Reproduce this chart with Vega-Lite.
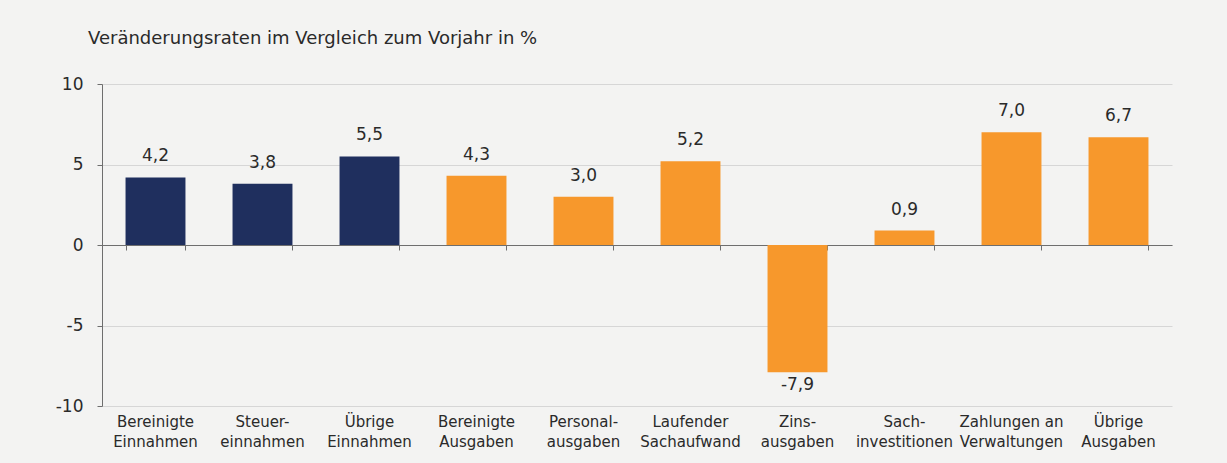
{
  "$schema": "https://vega.github.io/schema/vega-lite/v6.json",
  "autosize": "none",
  "width": 1070,
  "height": 322,
  "padding": {"left": 102, "top": 84, "right": 55, "bottom": 57},
  "background": "#f3f3f2",
  "config": {
    "locale": {"number": {"decimal": ",", "thousands": ".", "grouping": [3], "currency": ["", " €"], "minus": "-"}},
    "view": {"stroke": null},
    "font": "DejaVu Sans"
  },
  "title": {
    "text": "Veränderungsraten im Vergleich zum Vorjahr in %",
    "anchor": "start",
    "frame": "group",
    "dx": -14,
    "offset": 27,
    "font": "DejaVu Sans",
    "fontSize": 18,
    "fontWeight": "normal",
    "color": "#2a2a2a"
  },
  "data": {
    "values": [
      {"cat": "Bereinigte|Einnahmen", "v": 4.2, "group": "Einnahmen"},
      {"cat": "Steuer-|einnahmen", "v": 3.8, "group": "Einnahmen"},
      {"cat": "Übrige|Einnahmen", "v": 5.5, "group": "Einnahmen"},
      {"cat": "Bereinigte|Ausgaben", "v": 4.3, "group": "Ausgaben"},
      {"cat": "Personal-|ausgaben", "v": 3.0, "group": "Ausgaben"},
      {"cat": "Laufender|Sachaufwand", "v": 5.2, "group": "Ausgaben"},
      {"cat": "Zins-|ausgaben", "v": -7.9, "group": "Ausgaben"},
      {"cat": "Sach-|investitionen", "v": 0.9, "group": "Ausgaben"},
      {"cat": "Zahlungen an|Verwaltungen", "v": 7.0, "group": "Ausgaben"},
      {"cat": "Übrige|Ausgaben", "v": 6.7, "group": "Ausgaben"}
    ]
  },
  "encoding": {
    "x": {"field": "cat", "type": "nominal", "sort": null,
      "scale": {"paddingInner": 0.44, "paddingOuter": 0.22}},
    "y": {"field": "v", "type": "quantitative",
      "scale": {"domain": [-10, 10], "nice": false, "zero": false}}
  },
  "resolve": {"axis": {"x": "independent"}},
  "layer": [
    {
      "mark": {"type": "bar"},
      "encoding": {
        "x": {"field": "cat", "type": "nominal", "sort": null,
          "axis": {"title": null, "orient": "bottom", "labelAngle": 0, "domain": false, "ticks": false,
            "labelExpr": "split(datum.value, '|')", "labelFontSize": 15, "labelLineHeight": 20,
            "labelPadding": 8, "labelColor": "#2a2a2a", "labelBaseline": "top"}},
        "y": {"field": "v", "type": "quantitative",
          "axis": {"title": null, "values": [-10, -5, 0, 5, 10], "grid": true, "gridColor": "#d6d6d6",
            "domain": true, "domainColor": "#6e6e6e", "tickColor": "#6e6e6e", "tickSize": 5,
            "labelFontSize": 17, "labelColor": "#2a2a2a", "labelPadding": 14}},
        "color": {"field": "group", "type": "nominal",
          "scale": {"domain": ["Einnahmen", "Ausgaben"], "range": ["#1f2f5e", "#f7982c"]}, "legend": null}
      }
    },
    {
      "transform": [{"filter": "datum.v >= 0"}],
      "mark": {"type": "text", "fontSize": 17, "color": "#2a2a2a", "baseline": "alphabetic", "dy": -16},
      "encoding": {
        "x": {"field": "cat", "type": "nominal", "sort": null,
          "axis": {"title": null, "orient": "bottom", "offset": -161, "labels": false, "domain": true,
            "domainColor": "#6e6e6e", "ticks": true, "tickBand": "extent", "tickSize": 5, "tickColor": "#6e6e6e"}},
        "text": {"field": "v", "type": "quantitative", "format": ".1f"}
      }
    },
    {
      "transform": [{"filter": "datum.v < 0"}],
      "mark": {"type": "text", "fontSize": 17, "color": "#2a2a2a", "baseline": "top", "dy": 5},
      "encoding": {
        "x": {"field": "cat", "type": "nominal", "sort": null, "axis": null},
        "text": {"field": "v", "type": "quantitative", "format": ".1f"}
      }
    }
  ]
}
